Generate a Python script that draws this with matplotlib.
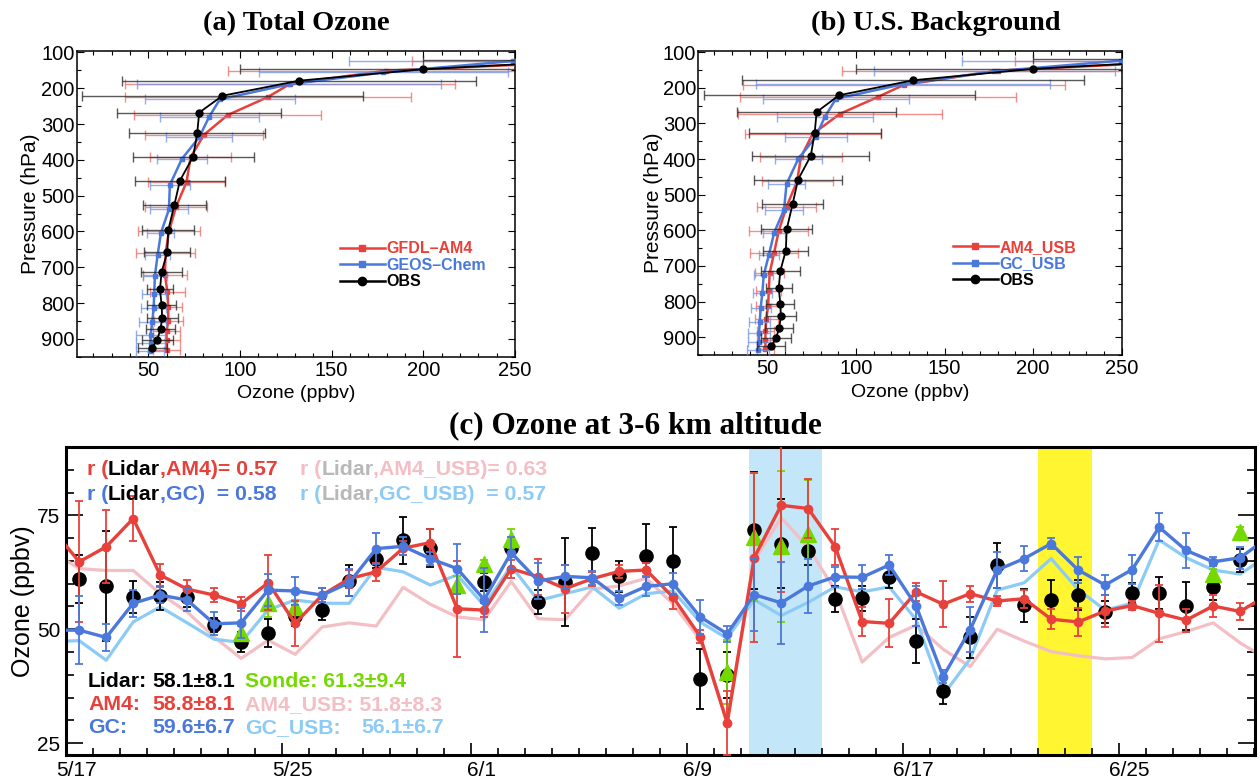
import numpy as np
import pandas as pd
import matplotlib
matplotlib.use('Agg')
import matplotlib.pyplot as plt
import matplotlib.dates as mdates
from matplotlib.lines import Line2D
from matplotlib.ticker import MultipleLocator, FixedLocator, FuncFormatter
from matplotlib.transforms import ScaledTranslation

N = np.nan
RED = '#E8403A'; BLUE = '#4A78DB'; LBLUE = '#8CCBF5'; PINK = '#F4BFC4'
GREEN = '#74D900'; GRAY = '#B8B8B8'

# ---------------- panel (a)/(b): profiles ----------------
p_obs = [120, 147, 179, 221, 268, 326, 391, 458, 527, 597, 657, 714, 762, 806, 841, 874, 902, 925]
o_obs = [300, 200, 132.2, 90.5, 77.8, 76.7, 74.5, 67.3, 64.2, 60.9, 60.4, 57.3, 56.4, 57.3, 57.6, 56.7, 54.9, 52.2]
e_obs = [100, 100, 96.5, 76.5, 44.8, 37.2, 33, 24.7, 17.2, 14.3, 12.6, 11.1, 7.3, 8, 8.5, 8, 8.4, 8]

p_am4 = [125, 151, 188, 225, 275, 330, 393, 462, 532, 600, 660, 721, 770, 811, 851, 879, 902, 930]
o_am4 = [294, 179.5, 127.3, 115.1, 93.3, 80.4, 73.1, 70.9, 65.1, 61.3, 59.5, 59.1, 60.5, 60.9, 60.9, 60, 60, 60]
e_am4 = [100, 86, 90, 78, 51, 32.4, 22, 21, 17, 17, 16, 12, 9.3, 7.5, 8, 7.3, 7.5, 7.5]

p_gc = [124, 156, 189, 231, 279, 337, 397, 470, 538, 605, 667, 725, 774, 815, 854, 888, 913, 934]
o_gc = [249, 178.2, 126.9, 89.1, 83.3, 77.8, 68.4, 61.8, 61.3, 56.9, 55.1, 53.6, 53.3, 52.9, 52.2, 51.3, 51.3, 50.9]
e_gc = [89.4, 68, 83, 41, 27, 18, 13.6, 11, 10.6, 7.3, 6.6, 6.4, 6.5, 6.9, 7.5, 7.7, 7.7, 7.6]

p_am4usb = [125, 152, 192, 226, 273, 330, 395, 462, 534, 602, 663, 720, 769, 813, 848, 883, 909, 933]
o_am4usb = [290, 180, 127, 112.3, 91, 75.5, 68.9, 66.8, 60.8, 56.4, 53.8, 51.3, 50.8, 50.4, 49.4, 48.9, 48.9, 48.9]
e_am4usb = [100, 88, 91, 78, 57.5, 38.4, 23, 20, 16.5, 16.5, 13.5, 8.2, 7, 6.6, 6.6, 5, 5, 5]

p_gcusb = [124, 154, 190, 231, 281, 337, 400, 470, 542, 607, 670, 726, 775, 817, 856, 888, 914, 936]
o_gcusb = [249.4, 178, 126.4, 88.7, 82.5, 77.4, 67.4, 60.8, 59.4, 53.8, 50.8, 47.9, 47.2, 46.2, 45.7, 45.3, 45.3, 44.7]
e_gcusb = [89.6, 68, 83, 41, 27, 17.7, 13.2, 10.5, 10.8, 6, 5.7, 5.4, 5.4, 5.6, 5.8, 6, 6.3, 6]

# ---------------- panel (c): time series ----------------
days = pd.date_range('2017-05-16 12:00', '2017-06-30 12:00', freq='D')
am4 = [72.0, 64.8, 68.1, 74.3, 61.9, 58.8, 57.5, 55.6, 60.2, 51.3, 57.5, 61.1, 62.6, 67.8, 69.0,
       54.5, 54.2, 63.3, 61.5, 58.9, 61.1, 62.7, 63.0, 57.0, 48.4, 29.4, 65.7, 77.2, 76.5, 68.1,
       51.7, 51.3, 58.2, 55.5, 57.8, 56.2, 56.7, 52.2, 51.6, 54.0, 55.2, 53.5, 52.0, 55.1, 53.9, 57.5]
am4_err = [3, 13.3, 8, 5, 2.5, 2, 1.5, 1.5, 6, 5, 1.5, 2, 2, 1.5, 3, 10.5, 1.5, 2, 4, 5.3, 1.5,
           1.5, 1.5, 2.5, 1.5, 7, 18.5, 19, 6.5, 4, 3.2, 5.3, 2, 5, 1.8, 1, 2, 2.2, 3, 3.5, 1,
           6.3, 2.5, 2.5, 1.8, 2]
gc = [49.8, 49.8, 48.2, 55.7, 57.5, 56.4, 51.2, 51.4, 58.6, 58.4, 57.5, 60.2, 67.7, 68.2, 65.5,
      63.3, 56.5, 66.8, 60.6, 61.6, 61.3, 56.8, 59.4, 60.0, 52.7, 49.0, 57.6, 55.8, 59.5, 61.5,
      61.4, 64.1, 55.1, 39.6, 49.9, 63.0, 65.5, 68.8, 63.0, 59.7, 63.1, 72.4, 67.3, 64.8, 65.7, 70.0]
gc_err = [3, 7.4, 3, 3, 1.8, 2.5, 2.5, 3.3, 3.6, 3, 1.5, 3, 3.4, 2, 1.5, 5.5, 7, 3.4, 4, 2.5, 1.5,
          1.5, 2.2, 2.3, 3.7, 1.7, 8, 9, 6, 2.2, 2.6, 2.3, 4.3, 1.5, 5, 4, 2.8, 1.2, 2.9, 2.2,
          3.1, 3.1, 3.8, 1, 2.4, 2]
am4_usb = [67.0, 63.3, 62.9, 62.9, 57.8, 53.8, 48.3, 43.6, 47.6, 44.5, 50.5, 51.4, 50.7, 59.2, 55.5,
           52.7, 52.1, 60.5, 52.3, 52.1, 58.8, 59.5, 61.2, 55.5, 47.7, 29.8, 65.0, 74.5, 68.0, 58.5,
           42.8, 48.2, 50.9, 45.6, 41.8, 50.0, 47.4, 45.1, 44.2, 43.5, 43.8, 47.9, 49.5, 51.4, 47.0, 43.5]
gc_usb = [47.3, 47.5, 43.2, 51.6, 54.9, 51.4, 47.8, 47.1, 54.3, 56.4, 55.7, 55.7, 63.6, 62.6, 59.7,
          61.9, 55.2, 63.9, 56.3, 57.8, 59.3, 54.6, 57.8, 58.4, 51.6, 48.0, 56.5, 53.0, 55.9, 59.3,
          58.2, 59.3, 52.1, 35.6, 43.5, 58.6, 60.2, 65.5, 58.7, 54.2, 55.7, 69.6, 65.7, 63.0, 62.1, 66.1]
lidar = [N, 61.1, 59.5, 57.1, 57.3, 57.1, 50.9, 47.3, 49.2, 53.0, 54.3, 60.6, 65.5, 69.5, 67.9,
         N, 60.4, 67.9, 56.0, 60.4, 66.8, 61.6, 66.0, 64.9, 39.0, 40.0, 71.7, 68.8, 67.2, 56.6,
         56.8, 61.4, 47.4, 36.5, 48.2, 64.0, 55.3, 56.5, 57.5, 53.8, 58.0, 58.0, 55.1, 59.3, 65.1, N]
lidar_err = [N, 5.3, 12, 3.5, 3, 2.2, 1.5, 2.2, 3, 2.3, 2.3, 3.4, 2, 5.2, 4.2, N, 2, 1.5, 2.6, 9.6,
             5.5, 3.4, 7, 7.5, 6.6, 5, 12.9, 9.8, 3, 2.9, 2.8, 2.4, 4.9, 2.9, 4.5, 4.9, 3.6, 4.3,
             3.3, 2.5, 2.2, 3.5, 5.3, 2.9, 2.6, N]
sonde = [N, N, N, N, N, N, N, 49.2, 55.7, 54.9, N, N, N, N, N, 59.7, 64.3, 69.9, N, N, N, N, N,
         N, N, 40.7, 70.3, 68.2, 70.8, N, N, N, N, N, N, N, N, N, N, N, N, N, N, 62.2, 71.4, N]
sonde_err = [N, N, N, N, N, N, N, 1.5, 3, 1.5, N, N, N, N, N, 2, 1, 2, N, N, N, N, N,
             N, N, 7, 14, 16.5, 12, N, N, N, N, N, N, N, N, N, N, N, N, N, N, 1, 1, N]
date_ticks = ['2017-05-17', '2017-05-25', '2017-06-01', '2017-06-09', '2017-06-17', '2017-06-25']
blue_band = ('2017-06-11 07:00', '2017-06-14 00:00')
yellow_band = ('2017-06-22 00:00', '2017-06-24 00:00')

W, H = 1260, 780
SANS = 'Liberation Sans'
SERIF = 'Liberation Serif'
plt.rcParams['font.family'] = [SANS, 'DejaVu Sans']

fig = plt.figure(figsize=(W / 100, H / 100), dpi=100)
fig.patch.set_facecolor('white')


def fax(l, t, r, b):
    return fig.add_axes([l / W, 1 - b / H, (r - l) / W, (b - t) / H])


ax_a = fax(76.7, 51, 515, 356.7)
ax_b = fax(698.3, 50.7, 1121.7, 355)
ax_c = fax(65.7, 447, 1255, 755)


def profile(ax, o, p, e, color, marker, ms, lw, ecolor, z):
    ax.errorbar(o, p, xerr=e, fmt='none', ecolor=ecolor, elinewidth=1.0, capsize=3.5,
                capthick=1.0, alpha=0.75, zorder=z)
    ax.plot(o, p, color=color, marker=marker, ms=ms, lw=lw, zorder=z + 1)


def style_profile(ax, names, colors, markers, lx, ly):
    ax.set_xlim(11, 250)
    ax.set_ylim(950, 96)
    ax.xaxis.set_major_locator(FixedLocator([50, 100, 150, 200, 250]))
    ax.xaxis.set_minor_locator(MultipleLocator(10))
    ax.yaxis.set_major_locator(FixedLocator([100, 200, 300, 400, 500, 600, 700, 800, 900]))
    ax.yaxis.set_minor_locator(MultipleLocator(50))
    ax.tick_params(which='both', direction='in', top=True, right=True, labelsize=14.5, width=0.8)
    ax.tick_params(which='major', length=5)
    ax.tick_params(which='minor', length=3)
    ax.tick_params(axis='y', pad=1.5)
    ax.tick_params(axis='x', pad=3)
    for s in ax.spines.values():
        s.set_linewidth(1.1)
    ax.set_xlabel('Ozone (ppbv)', fontsize=14)
    ax.set_ylabel('Pressure (hPa)', fontsize=15)
    handles = [Line2D([], [], color=c, marker=m, ms=(6 if m == 'o' else 4.5), lw=1.8)
               for c, m in zip(colors, markers)]
    leg = ax.legend(handles, names, loc='upper left', bbox_to_anchor=(lx, ly), frameon=False,
                    prop={'weight': 'bold', 'size': 11.5}, handlelength=2.8, handletextpad=0.1,
                    labelspacing=0.1, borderpad=0, borderaxespad=0, numpoints=1)
    for t, c in zip(leg.get_texts(), colors):
        t.set_color(c)


# panel (a)
profile(ax_a, o_am4, p_am4, e_am4, RED, 's', 3.5, 1.8, '#EE6A64', 2)
profile(ax_a, o_gc, p_gc, e_gc, BLUE, 's', 3.5, 1.8, '#6E93E6', 4)
profile(ax_a, o_obs, p_obs, e_obs, 'black', 'o', 5, 1.3, '#222222', 6)
style_profile(ax_a, ['GFDL\u2013AM4', 'GEOS\u2013Chem', 'OBS'], [RED, BLUE, 'black'],
              ['s', 's', 'o'], 0.601, 0.378)
ax_a.xaxis.set_label_coords(0.5, -0.119)
ax_a.xaxis.label.set_va('center')
ax_a.yaxis.set_label_coords(-0.105, 0.5)
ax_a.yaxis.label.set_va('center')

# panel (b)
profile(ax_b, o_am4usb, p_am4usb, e_am4usb, RED, 's', 3.5, 1.8, '#EE6A64', 2)
profile(ax_b, o_gcusb, p_gcusb, e_gcusb, BLUE, 's', 3.5, 1.8, '#6E93E6', 4)
profile(ax_b, o_obs, p_obs, e_obs, 'black', 'o', 5, 1.3, '#222222', 6)
style_profile(ax_b, ['AM4_USB', 'GC_USB', 'OBS'], [RED, BLUE, 'black'],
              ['s', 's', 'o'], 0.6015, 0.379)
ax_b.xaxis.set_label_coords(0.5, -0.122)
ax_b.xaxis.label.set_va('center')
ax_b.yaxis.set_label_coords(-0.105, 0.5)
ax_b.yaxis.label.set_va('center')

# panel (c)
x = mdates.date2num(days)
ax = ax_c
ax.axvspan(mdates.date2num(pd.Timestamp(blue_band[0])), mdates.date2num(pd.Timestamp(blue_band[1])),
           color='#C3E7F9', lw=0, zorder=0)
ax.axvspan(mdates.date2num(pd.Timestamp(yellow_band[0])), mdates.date2num(pd.Timestamp(yellow_band[1])),
           color='#FFF530', lw=0, zorder=0)
ax.plot(x, am4_usb, color=PINK, lw=2.3, zorder=2)
ax.plot(x, gc_usb, color=LBLUE, lw=2.3, zorder=2)
ax.errorbar(x, lidar, yerr=lidar_err, fmt='o', color='black', ms=9.5, elinewidth=1.3,
            capsize=3, capthick=1.3, zorder=3)
ax.errorbar(x, sonde, yerr=sonde_err, fmt='^', color=GREEN, ms=12, elinewidth=1.3,
            capsize=3, capthick=1.3, zorder=4)
ax.errorbar(x, am4, yerr=am4_err, fmt='-o', color=RED, ms=6, lw=2.4, elinewidth=1.3,
            capsize=3, capthick=1.3, zorder=5)
ax.errorbar(x, gc, yerr=gc_err, fmt='-o', color=BLUE, ms=6, lw=2.4, elinewidth=1.3,
            capsize=3, capthick=1.3, zorder=6)

x0 = mdates.date2num(pd.Timestamp('2017-05-17'))
ax.set_xlim(x0, x0 + 44.05)
ax.set_ylim(22.4, 90)
ax.yaxis.set_major_locator(FixedLocator([25, 50, 75]))
ax.yaxis.set_minor_locator(MultipleLocator(5))
ax.xaxis.set_major_locator(FixedLocator(mdates.date2num(pd.to_datetime(date_ticks))))
ax.xaxis.set_minor_locator(mdates.DayLocator())
ax.xaxis.set_major_formatter(FuncFormatter(lambda v, pos: '%d/%d' % (mdates.num2date(v).month,
                                                                     mdates.num2date(v).day)))
ax.tick_params(axis='x', which='both', direction='in', top=False, labelsize=15, pad=4, width=1.2)
ax.tick_params(axis='x', which='major', length=9)
ax.tick_params(axis='x', which='minor', length=5)
ax.tick_params(axis='y', which='both', direction='in', right=True, labelsize=15, pad=4, width=1.2)
ax.tick_params(axis='y', which='major', length=12)
ax.tick_params(axis='y', which='minor', length=6)
for s in ax.spines.values():
    s.set_linewidth(2.2)
ax.set_ylabel('Ozone (ppbv)', fontsize=18)
ax.yaxis.set_label_coords(-0.036, 0.498)
ax.yaxis.label.set_va('center')
off = ScaledTranslation(11 / 100, 0, fig.dpi_scale_trans)
for lab in ax.xaxis.get_majorticklabels():
    lab.set_transform(lab.get_transform() + off)

# titles
fig.text(296 / W, 1 - 30 / H, '(a) Total Ozone', family=SERIF, weight='bold', fontsize=20.5,
         ha='center', va='baseline')
fig.text(936 / W, 1 - 30 / H, '(b) U.S. Background', family=SERIF, weight='bold', fontsize=20.5,
         ha='center', va='baseline')
fig.text(635 / W, 1 - 433 / H, '(c) Ozone at 3-6 km altitude', family=SERIF, weight='bold',
         fontsize=22.5, ha='center', va='baseline')

# annotations in (c)
renderer = fig.canvas.get_renderer()


def seq_text(xpx, ypx, pieces, fs=15.3):
    xx = xpx
    for s, c in pieces:
        t = fig.text(xx / W, 1 - ypx / H, s, color=c, fontsize=fs, weight='bold',
                     ha='left', va='baseline', zorder=10)
        xx += t.get_window_extent(renderer).width


seq_text(86.7, 475, [('r (', RED), ('Lidar', 'black'), (',AM4)= 0.57', RED)])
seq_text(300, 475, [('r (', PINK), ('Lidar', GRAY), (',AM4_USB)= 0.63', PINK)])
seq_text(86.7, 500, [('r (', BLUE), ('Lidar', 'black'), (',GC)  = 0.58', BLUE)])
seq_text(300, 500, [('r (', LBLUE), ('Lidar', GRAY), (',GC_USB)  = 0.57', LBLUE)])

seq_text(88, 687, [('Lidar:', 'black')])
seq_text(152, 687, [('58.1\u00b18.1', 'black')])
seq_text(245, 687, [('Sonde: 61.3\u00b19.4', GREEN)])
seq_text(88, 710, [('AM4:', RED)])
seq_text(152, 710, [('58.8\u00b18.1', RED)])
seq_text(245, 710, [('AM4_USB: 51.8\u00b18.3', PINK)])
seq_text(88, 733, [('GC:', BLUE)])
seq_text(152, 733, [('59.6\u00b16.7', BLUE)])
seq_text(245, 733, [('GC_USB:', LBLUE)])
seq_text(361, 733, [('56.1\u00b16.7', LBLUE)])

fig.savefig('out.png', dpi=100, facecolor='white')
